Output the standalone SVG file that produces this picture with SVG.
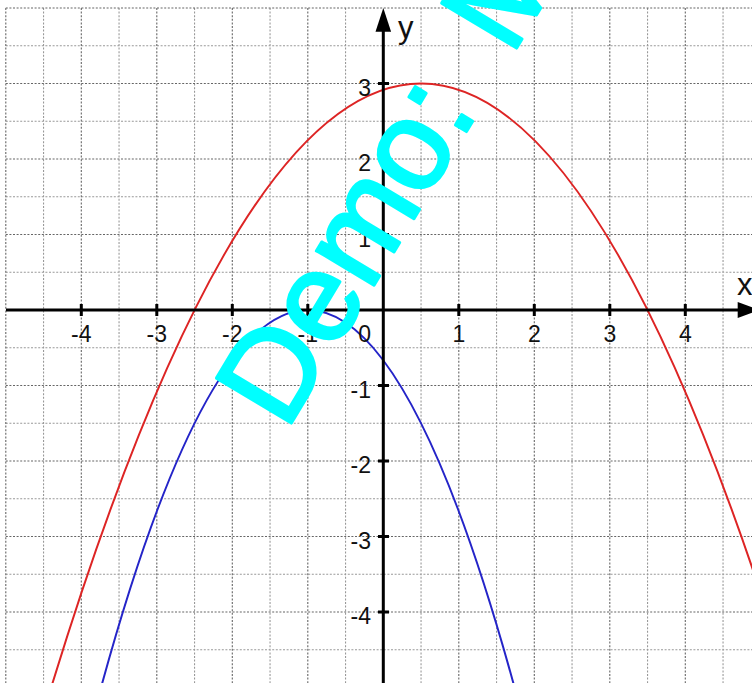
<svg xmlns="http://www.w3.org/2000/svg" width="752" height="683" viewBox="0 0 752 683">
<style>
.gi{fill:none;stroke:#666;stroke-width:1.1;stroke-dasharray:2 1.6}
.gh{fill:none;stroke:#999;stroke-width:1.1;stroke-dasharray:2 1.6}
.ax{fill:none;stroke:#000;stroke-width:3}
.tk{fill:none;stroke:#000;stroke-width:3}
.lb{font-family:"Liberation Sans",Arial,sans-serif;font-size:23px;fill:#111}
.lx{text-anchor:middle}
.ly{text-anchor:end}
.al{font-family:"Liberation Sans",Arial,sans-serif;font-size:31px;fill:#111}
.cv{fill:none;stroke-width:2}
</style>
<rect width="752" height="683" fill="#fff"/>
<g id="grid">
<path class="gh" d="M43.55 8V683M119.05 8V683M194.55 8V683M270.05 8V683M345.55 8V683M421.05 8V683M496.55 8V683M572.05 8V683M647.55 8V683M723.05 8V683M5.8 45.75H752M5.8 121.25H752M5.8 196.75H752M5.8 272.25H752M5.8 347.75H752M5.8 423.25H752M5.8 498.75H752M5.8 574.25H752M5.8 649.75H752"/>
<path class="gi" d="M5.8 8V683M81.3 8V683M156.8 8V683M232.3 8V683M307.8 8V683M458.8 8V683M534.3 8V683M609.8 8V683M685.3 8V683M5.8 8H752M5.8 83.5H752M5.8 159H752M5.8 234.5H752M5.8 385.5H752M5.8 461H752M5.8 536.5H752M5.8 612H752"/>
</g>
<g id="curves">
<path id="red-curve" class="cv" stroke="#dd2424" d="M43.55 712.67Q421.05 -545.67 798.55 712.67"/>
<path id="blue-curve" class="cv" stroke="#2424c8" d="M81.3 763Q307.8 -143 534.3 763"/>
</g>
<g id="axes">
<path class="ax" d="M6 310H740M383.3 683V28"/>
<path d="M760 310L737.7 302L737.7 318Z" fill="#000"/>
<path d="M383.3 8L375.5 31.7L391.1 31.7Z" fill="#000"/>
<path class="tk" d="M81.3 304V316M156.8 304V316M232.3 304V316M307.8 304V316M458.8 304V316M534.3 304V316M609.8 304V316M685.3 304V316M378 83.5H389M378 159H389M378 234.5H389M378 385.5H389M378 461H389M378 536.5H389M378 612H389"/>
</g>
<g id="labels">
<text class="lb lx" x="81.3" y="342">-4</text>
<text class="lb lx" x="156.8" y="342">-3</text>
<text class="lb lx" x="232.3" y="342">-2</text>
<text class="lb lx" x="307.8" y="342">-1</text>
<text class="lb ly" x="371" y="342">0</text>
<text class="lb lx" x="458.8" y="342">1</text>
<text class="lb lx" x="534.3" y="342">2</text>
<text class="lb lx" x="609.8" y="342">3</text>
<text class="lb lx" x="685.3" y="342">4</text>
<text class="lb ly" x="371" y="95.5">3</text>
<text class="lb ly" x="371" y="171">2</text>
<text class="lb ly" x="371" y="246.5">1</text>
<text class="lb ly" x="371" y="397.5">-1</text>
<text class="lb ly" x="371" y="473">-2</text>
<text class="lb ly" x="371" y="548.5">-3</text>
<text class="lb ly" x="371" y="624">-4</text>
<text class="al" x="398" y="38">y</text>
<text class="al" x="737" y="295">x</text>
</g>
<g id="watermark">
<text transform="translate(286 432) rotate(-59)" font-family="Liberation Sans,Arial,sans-serif" font-size="127" fill="#00ffff" stroke="#00ffff" stroke-width="3" stroke-linejoin="round">Demo: <tspan dx="28">M</tspan></text>
</g>
</svg>
